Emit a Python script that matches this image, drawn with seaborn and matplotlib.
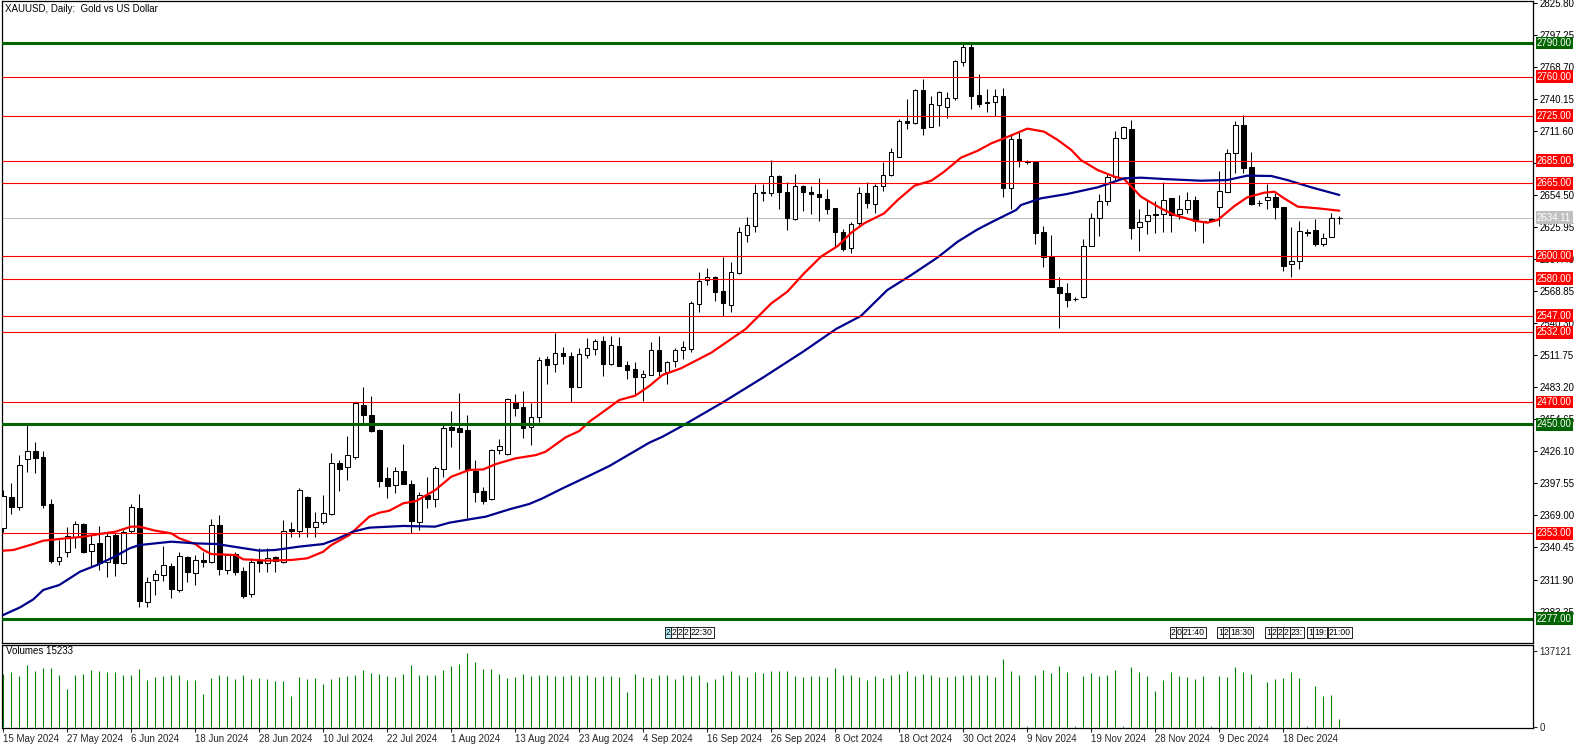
import numpy as np
import pandas as pd
import matplotlib
matplotlib.use("Agg")
import matplotlib.pyplot as plt
import matplotlib.transforms as mtransforms
import seaborn as sns

# ---------------- data ----------------
opens = [2357.5, 2385.4, 2376.8, 2419.0, 2426.4, 2420.8, 2378.9, 2328.7, 2336.7, 2350.1,
         2361.1, 2337.6, 2344.1, 2327.8, 2351.6, 2326.3, 2355.4, 2375.3, 2292.1, 2311.5,
         2316.2, 2323.9, 2302.6, 2331.7, 2318.0, 2329.3, 2327.8, 2360.5, 2320.4, 2334.6,
         2319.5, 2298.7, 2328.4, 2326.3, 2331.7, 2327.8, 2356.6, 2355.4, 2385.4, 2359.0,
         2363.4, 2370.0, 2415.4, 2411.8, 2421.3, 2467.4, 2458.5, 2445.1, 2402.0, 2395.8,
         2408.6, 2396.7, 2363.4, 2387.2, 2383.3, 2410.0, 2447.8, 2446.9, 2445.1, 2408.9,
         2391.0, 2383.3, 2427.0, 2423.7, 2470.3, 2465.3, 2447.5, 2456.4, 2508.4, 2503.6,
         2513.7, 2511.0, 2483.7, 2511.6, 2517.0, 2524.1, 2503.6, 2519.6, 2502.7, 2499.4,
         2492.0, 2494.4, 2516.4, 2496.5, 2506.3, 2516.0, 2517.0, 2557.3, 2578.7, 2581.1,
         2568.6, 2556.4, 2584.7, 2619.1, 2627.1, 2656.8, 2655.9, 2671.4, 2656.8, 2633.1,
         2662.2, 2656.8, 2655.3, 2650.9, 2642.6, 2621.5, 2606.9, 2629.2, 2655.9, 2646.1,
         2662.5, 2672.0, 2688.6, 2720.1, 2718.9, 2747.7, 2715.4, 2734.7, 2733.2, 2741.2,
         2772.7, 2786.0, 2743.3, 2737.3, 2737.0, 2742.4, 2660.4, 2704.4, 2684.7, 2684.2,
         2621.2, 2599.5, 2572.8, 2567.4, 2561.8, 2563.3, 2609.3, 2633.7, 2649.1, 2670.8,
         2705.0, 2713.0, 2625.7, 2631.3, 2637.2, 2637.2, 2651.5, 2637.2, 2641.7, 2650.0,
         2631.3, 2633.4, 2643.5, 2657.4, 2691.6, 2716.8, 2679.1, 2647.0, 2649.7, 2653.0,
         2643.5, 2592.7, 2596.0, 2621.2, 2623.3, 2610.5, 2617.3, 2633.7]
highs = [2392.0, 2397.6, 2422.8, 2449.6, 2434.7, 2426.4, 2383.3, 2347.1, 2358.4, 2364.0,
         2362.0, 2351.6, 2359.6, 2354.5, 2353.1, 2356.0, 2378.9, 2388.1, 2313.8, 2320.4,
         2341.8, 2326.3, 2336.7, 2332.8, 2333.7, 2336.7, 2365.8, 2369.4, 2335.0, 2336.7,
         2323.3, 2330.8, 2339.7, 2339.7, 2332.5, 2364.9, 2363.4, 2393.7, 2386.3, 2371.7,
         2387.2, 2424.3, 2418.4, 2439.7, 2469.4, 2483.1, 2475.4, 2446.0, 2411.8, 2411.8,
         2432.6, 2400.5, 2390.1, 2402.9, 2413.0, 2449.5, 2462.0, 2477.8, 2458.5, 2418.4,
         2394.0, 2428.2, 2436.7, 2473.9, 2477.2, 2480.1, 2469.4, 2510.4, 2511.0, 2531.8,
         2519.3, 2514.9, 2517.8, 2526.8, 2525.9, 2528.8, 2528.8, 2527.7, 2506.9, 2506.0,
         2498.5, 2523.2, 2528.8, 2506.9, 2517.8, 2524.0, 2560.3, 2585.6, 2589.1, 2582.0,
         2599.5, 2594.5, 2625.7, 2634.6, 2664.3, 2664.3, 2685.6, 2672.0, 2665.8, 2673.2,
         2663.4, 2662.5, 2669.3, 2659.8, 2643.0, 2623.9, 2630.7, 2661.3, 2666.3, 2664.3,
         2683.6, 2696.1, 2721.9, 2740.0, 2748.6, 2757.8, 2743.0, 2746.8, 2745.9, 2774.7,
         2789.0, 2789.0, 2762.3, 2748.9, 2748.9, 2749.8, 2708.8, 2710.3, 2685.5, 2684.8,
         2626.8, 2618.8, 2581.1, 2575.8, 2563.9, 2615.0, 2638.7, 2655.4, 2673.2, 2711.5,
         2715.9, 2721.3, 2641.7, 2650.0, 2649.1, 2666.0, 2652.1, 2654.5, 2657.4, 2653.9,
         2631.6, 2634.3, 2675.9, 2695.1, 2720.7, 2725.7, 2692.5, 2650.0, 2664.0, 2656.5,
         2644.0, 2626.2, 2631.3, 2623.9, 2632.8, 2620.9, 2638.1, 2635.8]
lows = [2354.0, 2370.3, 2373.8, 2408.0, 2406.5, 2375.3, 2326.9, 2325.1, 2332.2, 2339.7,
        2335.2, 2323.3, 2320.4, 2314.4, 2315.3, 2326.0, 2353.0, 2287.1, 2287.7, 2298.1,
        2310.9, 2295.7, 2301.1, 2310.0, 2307.0, 2323.3, 2326.3, 2315.9, 2316.8, 2315.9,
        2295.1, 2296.6, 2318.9, 2318.3, 2318.9, 2326.9, 2350.1, 2350.1, 2350.1, 2350.1,
        2361.4, 2369.0, 2391.0, 2400.5, 2419.5, 2451.0, 2443.0, 2394.0, 2384.2, 2388.7,
        2396.7, 2353.6, 2356.0, 2375.3, 2376.2, 2403.5, 2430.2, 2410.0, 2366.4, 2381.2,
        2379.2, 2382.7, 2423.7, 2422.8, 2457.6, 2437.7, 2431.7, 2452.5, 2485.8, 2497.1,
        2503.6, 2470.3, 2483.0, 2508.9, 2511.9, 2493.2, 2503.0, 2501.8, 2490.2, 2476.9,
        2471.2, 2494.0, 2493.2, 2485.8, 2501.5, 2508.0, 2515.0, 2550.5, 2574.3, 2560.3,
        2546.7, 2550.5, 2584.0, 2612.9, 2621.8, 2649.4, 2653.9, 2642.0, 2623.3, 2632.2,
        2640.5, 2637.2, 2631.6, 2637.2, 2608.4, 2604.9, 2602.5, 2627.7, 2642.6, 2638.1,
        2658.3, 2671.0, 2688.0, 2713.3, 2717.7, 2707.9, 2714.8, 2716.2, 2723.4, 2739.1,
        2769.7, 2730.8, 2732.6, 2728.7, 2725.2, 2652.4, 2642.0, 2679.7, 2682.5, 2610.8,
        2590.0, 2572.5, 2536.3, 2554.4, 2560.0, 2563.0, 2609.0, 2617.9, 2645.6, 2667.2,
        2704.0, 2615.0, 2604.9, 2619.7, 2620.3, 2621.8, 2621.2, 2633.1, 2638.1, 2622.7,
        2612.0, 2631.3, 2627.1, 2657.0, 2674.4, 2674.4, 2645.5, 2644.7, 2642.0, 2632.8,
        2587.0, 2581.7, 2588.5, 2617.9, 2609.3, 2609.3, 2617.0, 2628.3]
closes = [2386.3, 2376.2, 2413.9, 2426.4, 2420.5, 2378.6, 2328.4, 2332.2, 2351.0, 2361.1,
          2336.7, 2343.2, 2326.3, 2350.7, 2326.9, 2354.5, 2376.8, 2293.0, 2310.0, 2316.8,
          2324.8, 2303.7, 2332.8, 2318.9, 2329.3, 2327.8, 2360.5, 2320.9, 2333.7, 2318.9,
          2297.5, 2327.2, 2326.3, 2331.4, 2328.7, 2355.4, 2355.4, 2391.6, 2359.0, 2363.4,
          2370.9, 2415.4, 2410.1, 2422.5, 2468.8, 2458.5, 2444.5, 2399.9, 2395.5, 2408.9,
          2397.0, 2364.3, 2387.2, 2383.9, 2410.9, 2446.6, 2445.4, 2443.6, 2409.5, 2390.1,
          2382.1, 2427.3, 2430.8, 2472.7, 2464.4, 2447.2, 2456.4, 2507.5, 2503.0, 2513.7,
          2511.3, 2483.7, 2512.8, 2517.8, 2524.1, 2503.6, 2520.5, 2502.4, 2498.8, 2492.0,
          2494.7, 2516.1, 2497.7, 2505.7, 2516.1, 2519.0, 2557.9, 2577.5, 2581.7, 2568.3,
          2557.9, 2585.6, 2621.5, 2627.4, 2655.9, 2655.9, 2671.4, 2657.4, 2633.7, 2662.8,
          2657.4, 2655.1, 2652.4, 2641.7, 2621.2, 2606.3, 2628.3, 2655.9, 2647.6, 2662.2,
          2672.6, 2692.5, 2720.4, 2718.3, 2747.7, 2714.5, 2735.3, 2746.2, 2741.2, 2773.9,
          2786.0, 2743.0, 2735.3, 2736.4, 2742.4, 2660.4, 2704.4, 2684.7, 2683.6, 2620.9,
          2598.9, 2572.8, 2566.8, 2560.9, 2562.0, 2609.3, 2633.7, 2649.1, 2670.8, 2705.0,
          2714.8, 2625.4, 2630.7, 2636.6, 2636.3, 2650.0, 2636.6, 2641.7, 2650.0, 2631.3,
          2630.7, 2632.5, 2658.0, 2691.6, 2716.8, 2678.8, 2646.4, 2647.3, 2652.4, 2643.5,
          2591.5, 2596.0, 2622.4, 2620.9, 2610.5, 2615.9, 2633.7, 2634.1]
volumes = [96000, 99600, 90800, 111900, 101400, 106600, 106600, 92600, 69100, 92600,
           96100, 103100, 101400, 99600, 99600, 92600, 94300, 104900, 83800, 89100,
           90800, 92600, 92600, 83800, 83800, 59200, 87300, 92600, 90800, 85600,
           92600, 85600, 87300, 85600, 82000, 82000, 55700, 89100, 85600, 87300,
           76800, 85600, 89100, 90800, 92600, 103100, 97900, 96100, 90800, 89100,
           96100, 111900, 94300, 94300, 92600, 103100, 110200, 113700, 133000, 117200,
           104900, 104900, 96100, 87300, 89100, 96100, 90800, 92600, 92600, 90800,
           90800, 92600, 90800, 92600, 89100, 90800, 90800, 89100, 62700, 96100,
           89100, 87300, 92600, 92600, 85600, 92600, 90800, 94300, 80300, 85600,
           94300, 101400, 92600, 89100, 99600, 97900, 101400, 101400, 101000, 90800,
           89100, 90800, 90800, 89100, 106600, 94300, 94300, 89100, 83800, 90800,
           87300, 92600, 96100, 101400, 90800, 96100, 92600, 89100, 89100, 90800,
           92600, 94300, 94300, 92600, 89100, 122500, 101400, 94300, 1200, 92600,
           103100, 97900, 110200, 99600, 1200, 90800, 97900, 90800, 94300, 103100,
           1200, 108400, 99600, 90800, 64500, 83800, 99600, 90800, 89100, 85600,
           90800, 1200, 90800, 89100, 108400, 99600, 96100, 1200, 80300, 85600,
           87300, 99600, 87300, 1200, 73200, 55700, 57400, 15233]

date_labels = ["15 May 2024", "27 May 2024", "6 Jun 2024", "18 Jun 2024", "28 Jun 2024",
               "10 Jul 2024", "22 Jul 2024", "1 Aug 2024", "13 Aug 2024", "23 Aug 2024",
               "4 Sep 2024", "16 Sep 2024", "26 Sep 2024", "8 Oct 2024", "18 Oct 2024",
               "30 Oct 2024", "9 Nov 2024", "19 Nov 2024", "28 Nov 2024", "9 Dec 2024",
               "18 Dec 2024"]
date_label_bars = [0, 8, 16, 24, 32, 40, 48, 56, 64, 72, 80, 88, 96, 104, 112, 120,
                   128, 136, 144, 152, 160]

ma_red_x = [0, 1.25, 3.75, 5, 7, 10, 12, 14, 16, 17, 19, 21, 22, 24, 25, 26, 29, 30, 33, 36,
            38, 40, 41, 43.25, 45.75, 47, 48.25, 50, 51.6, 54, 56, 58.25, 60, 61.6, 64, 66.6,
            67.8, 70.3, 72, 73.25, 75, 77, 79, 80.75, 82.4, 84.7, 88.5, 92.8, 96, 98, 100.1,
            102.2, 104.3, 106, 107.6, 110.1, 111.8, 113.9, 116, 117.6, 119.7, 121.8, 123.5,
            125.1, 126.6, 128, 130.1, 131.8, 133.5, 134.7, 136.8, 138.9, 140.1, 142.2, 144.7,
            146.4, 148.9, 150.5, 151.8, 153.9, 155.5, 157.6, 158.9, 160.1, 161.8, 164.3, 167]
ma_red_y = [2337.6, 2338.2, 2343.5, 2346.5, 2348.0, 2350.0, 2352.4, 2354.5, 2359.0, 2359.0,
            2355.4, 2353.0, 2348.6, 2343.5, 2338.2, 2334.6, 2333.7, 2329.9, 2328.7, 2329.3,
            2330.8, 2336.7, 2342.6, 2351.5, 2367.9, 2371.4, 2373.2, 2379.8, 2381.8, 2391.6,
            2403.5, 2409.5, 2410.0, 2414.8, 2419.8, 2422.8, 2425.8, 2438.6, 2444.2, 2452.5,
            2461.4, 2471.8, 2475.7, 2484.3, 2494.1, 2500.0, 2514.0, 2535.1, 2557.9, 2568.3,
            2584.7, 2599.5, 2609.0, 2620.9, 2629.2, 2638.1, 2650.0, 2662.8, 2667.2, 2675.2,
            2687.7, 2693.9, 2700.5, 2705.0, 2709.4, 2713.6, 2710.9, 2703.5, 2694.6, 2685.6,
            2676.7, 2670.8, 2668.7, 2653.0, 2642.6, 2636.6, 2631.6, 2629.8, 2632.2, 2644.7,
            2652.4, 2656.5, 2657.4, 2651.5, 2644.1, 2642.6, 2640.5]
ma_blue_x = [0, 2.1, 3.75, 5, 7, 9.6, 11.7, 13.75, 15.8, 17, 19, 21, 24, 26.7, 28.75, 32, 34,
             37, 40, 41.6, 43.7, 45.75, 50, 54, 55.75, 58.25, 60.3, 63.25, 65.75, 67.4, 69.9,
             73.25, 75.75, 78.25, 80.75, 82.4, 84.7, 90, 95, 100, 104.1, 107.2, 110.5, 113.5,
             116.8, 119.3, 121.8, 123.9, 126.6, 127.2, 129.7, 133, 136.8, 140.1, 142.2, 145.1,
             149.7, 153, 155.5, 158.5, 160.5, 163.5, 167]
ma_blue_y = [2280.3, 2287.1, 2294.2, 2302.6, 2307.0, 2318.9, 2324.8, 2331.7, 2339.7, 2342.6,
             2344.1, 2345.6, 2344.1, 2343.5, 2341.2, 2337.6, 2338.2, 2341.2, 2343.5, 2347.7,
             2354.5, 2358.1, 2359.6, 2359.0, 2362.5, 2365.5, 2367.9, 2374.4, 2379.2, 2384.2,
             2393.1, 2404.4, 2413.0, 2423.4, 2433.8, 2439.1, 2448.1, 2470.0, 2492.0, 2515.0,
             2535.1, 2546.7, 2569.8, 2583.2, 2598.9, 2612.9, 2623.9, 2631.6, 2641.1, 2645.5,
             2651.5, 2655.4, 2661.3, 2669.3, 2669.9, 2668.7, 2667.2, 2667.8, 2671.7, 2671.4,
             2667.8, 2661.3, 2654.5]

red_levels = [2760.00, 2725.00, 2685.00, 2665.00, 2600.00, 2580.00, 2547.00, 2532.00, 2470.00, 2353.00]
green_levels = [2790.00, 2450.00, 2277.00]
last_price = 2634.11

price_ticks = [2283.35, 2311.90, 2340.45, 2369.00, 2397.55, 2426.10, 2454.65, 2483.20,
               2511.75, 2540.30, 2568.85, 2597.40, 2625.95, 2654.50, 2683.05, 2711.60,
               2740.15, 2768.70, 2797.25, 2825.80]
volume_max_label = 137121
volume_last = 15233

title_text = "XAUUSD, Daily:  Gold vs US Dollar"

# ---------------- layout helpers ----------------
W, H = 1586, 750
sns.set_style("white")
plt.rcParams["font.family"] = ["Liberation Sans", "DejaVu Sans"]
FS = 7

fig = plt.figure(figsize=(W / 100, H / 100), dpi=100)


def rect(l, t, r, b):
    return [l / W, 1 - b / H, (r - l) / W, (b - t) / H]


ax = fig.add_axes(rect(2, 1, 1533, 643))
axv = fig.add_axes(rect(2, 645, 1533, 728))

n = len(closes)
x = np.arange(n)
o = np.array(opens); c = np.array(closes); hi = np.array(highs); lo = np.array(lows)

XL = ((2 - 3.3) / 8.0, (1533 - 3.3) / 8.0)

# ---------------- price panel ----------------
ax.vlines(x, lo, hi, color="black", lw=0.75, zorder=2)
body_bottom = np.minimum(o, c)
body_h = np.abs(c - o)
face = ["white" if cc >= oo else "black" for oo, cc in zip(o, c)]
ax.bar(x, body_h, bottom=body_bottom, width=0.55, color=face, edgecolor="black",
       linewidth=0.75, zorder=3)

red_df = pd.DataFrame({"bar": ma_red_x, "value": ma_red_y})
blue_df = pd.DataFrame({"bar": ma_blue_x, "value": ma_blue_y})
sns.lineplot(data=red_df, x="bar", y="value", ax=ax, color="#FF0000", lw=1.6, zorder=3.5)
sns.lineplot(data=blue_df, x="bar", y="value", ax=ax, color="#00008B", lw=1.6, zorder=3.5)

for lv in red_levels:
    ax.axhline(lv, color="#FF0000", lw=0.8, zorder=4)
for lv in green_levels:
    ax.axhline(lv, color="#006400", lw=2.2, zorder=4)
ax.axhline(last_price, color="#C0C0C0", lw=0.8, zorder=1.5)

ax.set_xlim(*XL)
ax.set_ylim(2255.33, 2827.31)
ax.set_xlabel(""); ax.set_ylabel("")
ax.yaxis.tick_right()
ax.set_yticks(price_ticks)
ax.set_yticklabels([f"{v:.2f}" for v in price_ticks])
ax.tick_params(axis="y", direction="out", length=3, width=0.8, labelsize=FS, pad=1.5,
               right=True, left=False, colors="black")
ax.tick_params(axis="x", bottom=False, labelbottom=False)
for s in ax.spines.values():
    s.set_color("black"); s.set_linewidth(0.9)

trans = mtransforms.blended_transform_factory(ax.transAxes, ax.transData)
box_x = 1 + 4.0 / 1531
for lv in red_levels:
    ax.text(box_x, lv, f"{lv:.2f}", transform=trans, ha="left", va="center", fontsize=FS,
            color="white", zorder=10, clip_on=False,
            bbox=dict(boxstyle="square,pad=0.14", fc="#FF0000", ec="none"))
for lv in green_levels:
    ax.text(box_x, lv, f"{lv:.2f}", transform=trans, ha="left", va="center", fontsize=FS,
            color="white", zorder=10, clip_on=False,
            bbox=dict(boxstyle="square,pad=0.14", fc="#006400", ec="none"))
ax.text(box_x, last_price, f"{last_price:.2f}", transform=trans, ha="left", va="center",
        fontsize=FS, color="white", zorder=10, clip_on=False,
        bbox=dict(boxstyle="square,pad=0.14", fc="#C0C0C0", ec="none"))

# event markers along the bottom of the price panel
markers = [(666, "2", "#B8ECF4"), (672, "2", "white"), (678, "2", "white"), (684, "2", "white"),
           (691, "22:30", "white"),
           (1171, "2", "white"), (1177, "0", "white"), (1183, "21:40", "white"),
           (1218, "1", "white"), (1224, "2", "white"), (1230, "18:30", "white"),
           (1266, "1", "white"), (1272, "2", "white"), (1278, "2", "white"), (1284, "2", "white"),
           (1291, "23:", "white"), (1308, "1", "white"), (1314, "19:", "white"),
           (1329, "21:00", "white")]
for px, txt, fc in markers:
    fig.text(px / W, 1 - 632.5 / H, txt, ha="left", va="center", fontsize=6.3,
             color="black", zorder=12,
             bbox=dict(boxstyle="square,pad=0.12", fc=fc, ec="black", lw=0.6))

fig.text(5 / W, 1 - 8.5 / H, title_text, ha="left", va="center", fontsize=FS, color="black")

# ---------------- volume panel ----------------
axv.vlines(x, 0, volumes, color="#008000", lw=0.8)
axv.set_xlim(*XL)
axv.set_ylim(-1797, 147365)
axv.yaxis.tick_right()
axv.set_yticks([0, volume_max_label])
axv.set_yticklabels(["0", str(volume_max_label)])
axv.tick_params(axis="y", direction="out", length=3, width=0.8, labelsize=FS, pad=1.5,
                right=True, left=False)
axv.set_xticks(date_label_bars)
axv.set_xticklabels(date_labels, ha="left")
axv.tick_params(axis="x", direction="out", length=3, width=0.8, labelsize=FS, pad=1.5,
                bottom=True)
for s in axv.spines.values():
    s.set_color("black"); s.set_linewidth(0.9)
fig.text(6 / W, 1 - 651 / H, f"Volumes {volume_last}", ha="left", va="center",
         fontsize=FS, color="black")

fig.savefig("out.png", dpi=100, facecolor="white")
